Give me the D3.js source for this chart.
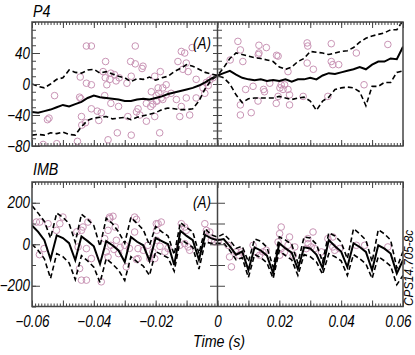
<!DOCTYPE html>
<html>
<head>
<meta charset="utf-8">
<script src="https://cdn.jsdelivr.net/npm/d3@7"></script>
<style>
  body { margin: 0; background: #fff; }
  svg text { font-family: "Liberation Sans Narrow", "Liberation Sans", Arial, sans-serif; font-style: italic; fill: #000; }
  .lab { font-size: 16px; }
  .ttl { font-size: 17px; }
</style>
</head>
<body>
<svg width="415" height="355"></svg>
<script>
// time grid (s), one sample every 2 ms
let times = d3.range(-60, 61, 2).map(ms => ms / 1000);

// P4 panel
let p4Mean = [-36,-37,-35,-33,-30,-27,-29,-26,-23,-18,-15,-17,-18,-19,-20,-22,-22,-20,-19,-20,-18,
  -16,-13,-11,-9,-7,-5,-2,2,7,11,14,17,12,8,6,5,6,4,5,4,6,3,6,6,8,6,11,14,13,15,17,19,22,19,25,29,29,33,32,48];
let p4Upper = [0,-3,-5,0,6,8,18,15,14,18,19,14,16,13,10,8,3,7,6,9,5,8,10,16,20,25,23,19,15,13,11,
  21,33,40,38,36,34,33,31,29,22,19,22,29,33,42,41,40,38,40,42,43,47,54,59,62,64,66,70,70,82];
let p4Lower = [-66,-65,-66,-63,-64,-62,-65,-66,-55,-47,-44,-43,-42,-45,-44,-43,-46,-43,-41,-39,-37,
  -33,-31,-32,-33,-33,-32,-22,-6,5,11,8,0,-14,-24,-19,-18,-18,-18,-18,-16,-18,-20,-18,-17,-22,-34,-22,-17,-7,-5,-4,-5,-10,-28,-3,-3,2,2,15,17];
let p4Dots = [
  [-0.0424,49],[-0.0408,49],[-0.0266,49],[-0.0362,29],[-0.0281,29],[-0.0266,26],[-0.0241,23],[-0.0244,20],
  [-0.037,16],[-0.0444,9],[-0.0363,8],[-0.0345,14],[-0.0333,12],[-0.0318,8],[-0.0348,6],[-0.0328,4],
  [-0.0358,-1],[-0.0424,1],[-0.0408,-1],[-0.0293,1],[-0.0279,10],[-0.0203,10],[-0.0214,-10],[-0.0527,-15],
  [-0.0446,-17],[-0.0442,-19],[-0.0365,-15],[-0.0345,-25],[-0.032,-29],[-0.0408,-32],[-0.0389,-35],[-0.0376,-37],
  [-0.055,-46],[-0.0545,-44],[-0.0257,-32],[-0.0262,-36],[-0.0251,-40],[-0.029,-42],[-0.023,-25],[-0.0216,-29],
  [-0.044,-42],[-0.0384,-47],[-0.0427,-50],[-0.0324,-63],[-0.0279,-66],[-0.023,-48],[-0.0453,-74],[-0.0564,-78],
  [-0.052,-77],[-0.0354,-72],[-0.0203,-42],[-0.0198,-22],[-0.0439,-53],
  [-0.0117,42],[-0.0106,40],[-0.0082,47],[0.0066,55],[0.0134,50],[0.0158,47],[0.0074,44],[0.0134,40],
  [0.0082,29],[0.0041,31],[-0.0128,29],[-0.0101,27],[-0.0185,16],[-0.0112,19],[-0.0095,16],[-0.0069,6],
  [-0.0036,2],[-0.0025,5],[-0.003,-2],[-0.0015,8],[-0.0166,-1],[-0.0192,-5],[-0.019,-12],[-0.0198,-15],
  [-0.0196,-22],[-0.0209,-26],[-0.0182,-18],[-0.0177,-5],[-0.0166,-14],[-0.015,-12],[-0.0177,-20],[-0.0133,-20],
  [-0.0117,-29],[-0.0101,-18],[-0.0069,-18],[-0.0122,-42],[-0.009,-40],[-0.0187,-63],[-0.0047,-5],[-0.0041,-12],
  [0.0091,-7],[0.0115,-3],[0.0149,-7],[0.0152,-10],[0.0169,1],[0.0131,-22],[0.019,-25],[0.0074,-27],
  [0.0074,-40],[0.0109,-37],[0.0206,-1],[0.0191,37],[0.0132,38],
  [0.029,53],[0.0292,49],[0.0368,52],[0.0551,51],[0.0449,40],[0.029,27],[0.031,19],[0.0368,29],
  [0.0373,25],[0.0392,25],[0.0228,16],[0.0196,36],[0.0202,-5],[0.0217,-1],[0.0212,-7],[0.0228,-7],
  [0.0233,-14],[0.0233,-27],[0.0196,-16],[0.0277,-16],[0.0357,-16],[0.0474,-1]
];

// IMB panel
let imbMean = [90,60,20,-72,43,30,5,-77,38,15,-10,-95,15,-5,-30,-85,35,12,-5,-80,30,15,0,-100,65,40,20,-75,45,28,19,
  25,-10,-50,-35,-125,-15,-30,-55,-140,5,-20,-40,-120,-15,-20,-50,-115,20,-10,-35,-110,5,-13,-37,-125,-5,-21,-45,-141,-77];
let imbUpper = [185,150,110,30,150,130,100,10,145,120,90,-10,125,100,60,5,130,100,70,-5,85,60,40,-50,105,80,60,-45,75,45,35,
  50,20,-20,-10,-85,25,15,-15,-110,35,20,0,-90,35,30,0,-85,55,40,10,-70,75,50,20,-85,70,50,20,-115,-35];
let imbLower = [0,-30,-70,-165,-45,-60,-90,-170,-55,-80,-110,-185,-70,-95,-125,-175,-60,-85,-105,-150,-35,-50,-65,-130,25,5,-15,-120,10,5,5,
  5,-30,-75,-65,-160,-50,-65,-90,-165,-30,-55,-75,-150,-50,-60,-85,-145,-45,-60,-80,-150,-50,-70,-95,-165,-60,-80,-105,-195,-150];
let imbDots = [
  [-0.0586,107],[-0.0575,107],[-0.0548,99],[-0.0561,-21],[-0.0521,67],[-0.051,99],[-0.05,131],[-0.044,67],
  [-0.0435,83],[-0.0419,107],[-0.0451,-13],[-0.0424,-21],[-0.0408,-69],[-0.0446,-117],[-0.044,-173],[-0.0424,-173],
  [-0.0376,-181],[-0.0349,131],[-0.0338,135],[-0.0354,67],[-0.0365,27],[-0.036,-37],[-0.0327,19],[-0.0345,-5],
  [-0.0335,-25],[-0.032,-45],[-0.0315,-15],[-0.0354,-61],[-0.03,-5],[-0.0295,-109],[-0.0285,-20],[-0.0268,131],
  [-0.0262,120],[-0.0268,59],[-0.0257,-21],[-0.0257,-69],[-0.0262,-73],[-0.024,-29],[-0.0225,-5],[-0.0219,-69],
  [-0.0209,-37],[-0.0198,99],[-0.0192,99],[-0.0182,107],[-0.0197,67],[-0.0197,19],[-0.0186,-10],[-0.017,-37],
  [-0.016,-20],[-0.0203,-69],[-0.0117,99],[-0.0106,83],[-0.0101,67],[-0.0095,-13],[-0.009,-29],[-0.0106,3],
  [-0.0122,-5],[-0.0041,99],[-0.0036,67],[-0.0025,59],[-0.002,19],[-0.0009,11],[0.0002,11],[0.0034,-5],
  [0.0039,-61],[0.0045,-109],[0.006,-37],[0.0069,-53],[0.0077,-37],[0.0115,-5],[0.0126,-37],[0.0136,-53],
  [0.0147,-37],[0.0158,-29],[0.0206,83],[0.0201,51],[0.0233,35],[0.0196,11],[0.0206,-21],[0.0217,-37],
  [0.0228,-5],[0.0245,-53],[0.025,-13],[0.0201,-53],[0.0309,59],[0.0293,3],[0.0303,-13],[0.0314,-21],
  [0.0287,-21],[0.0336,-37],[0.0357,27],[0.0373,-13],[0.0395,-21],[0.0449,-5],[0.0476,-5],[0.0551,-13],
  [0.0292,27],[0.0373,35],[0.0379,-29],[-0.0576,-50],[-0.0455,60],[-0.0348,124],[-0.0331,83]
];

let xTickLabels = [-0.06, -0.04, -0.02, 0, 0.02, 0.04, 0.06];
let p4TickLabels = [40, 0, -40, -80];
let imbTickLabels = [200, 0, -200];

let svg = d3.select("svg");
let frameColor = "#444";
let dotColor = "#c994b5";

let x = d3.scaleLinear().domain([-0.06, 0.06]).range([32, 403]);
let xMinor = d3.range(-60, 61).map(v => v / 1000);
let xMajor = d3.range(-60, 61, 10).map(v => v / 1000);

function styleTicks(g) {
  g.select(".domain").remove();
  g.selectAll("line").attr("stroke", frameColor).attr("stroke-width", 1);
  g.attr("font-family", null).attr("font-size", null);
}

function drawPanel(id, y, mean, upper, lower, dots, minorY, majorY, centerY, centerLen) {
  let [bottom, top] = y.range();
  let g = svg.append("g");

  g.append("clipPath").attr("id", id)
    .append("rect").attr("x", x(-0.06)).attr("y", top).attr("width", x(0.06) - x(-0.06)).attr("height", bottom - top);

  let plot = g.append("g").attr("clip-path", `url(#${id})`);

  plot.selectAll("circle")
    .data(dots)
    .join("circle")
      .attr("cx", d => x(d[0]))
      .attr("cy", d => y(d[1]))
      .attr("r", 3.3)
      .attr("fill", "none")
      .attr("stroke", dotColor)
      .attr("stroke-width", 1);

  let line = d3.line().x((d, i) => x(times[i])).y(d => y(d));

  [upper, lower].forEach(s => {
    plot.append("path").attr("d", line(s))
      .attr("fill", "none").attr("stroke", "#000")
      .attr("stroke-width", 1.6).attr("stroke-dasharray", "5,3");
  });
  plot.append("path").attr("d", line(mean))
    .attr("fill", "none").attr("stroke", "#000").attr("stroke-width", 2);

  // x ticks on bottom and top edges, pointing inward
  g.append("g").attr("transform", `translate(0,${bottom})`)
    .call(d3.axisBottom(x).tickValues(xMinor).tickSize(-3).tickFormat("")).call(styleTicks);
  g.append("g").attr("transform", `translate(0,${bottom})`)
    .call(d3.axisBottom(x).tickValues(xMajor).tickSize(-6).tickFormat("")).call(styleTicks);
  g.append("g").attr("transform", `translate(0,${top})`)
    .call(d3.axisTop(x).tickValues(xMinor).tickSize(-3).tickFormat("")).call(styleTicks);
  g.append("g").attr("transform", `translate(0,${top})`)
    .call(d3.axisTop(x).tickValues(xMajor).tickSize(-6).tickFormat("")).call(styleTicks);

  // left axis ticks inward
  g.append("g").attr("transform", `translate(${x(-0.06)},0)`)
    .call(d3.axisLeft(y).tickValues(minorY).tickSize(-4).tickFormat("")).call(styleTicks);
  g.append("g").attr("transform", `translate(${x(-0.06)},0)`)
    .call(d3.axisLeft(y).tickValues(majorY).tickSize(-8).tickFormat("")).call(styleTicks);

  // centre axis at t = 0 with ticks on both sides
  g.append("line")
    .attr("x1", x(0)).attr("x2", x(0)).attr("y1", top).attr("y2", bottom)
    .attr("stroke", frameColor).attr("stroke-width", 1.5);
  g.append("g").attr("transform", `translate(${x(0)},0)`)
    .call(d3.axisLeft(y).tickValues(centerY).tickSize(centerLen).tickFormat("")).call(styleTicks);
  g.append("g").attr("transform", `translate(${x(0)},0)`)
    .call(d3.axisRight(y).tickValues(centerY).tickSize(centerLen).tickFormat("")).call(styleTicks);

  g.append("rect")
    .attr("x", x(-0.06)).attr("y", top)
    .attr("width", x(0.06) - x(-0.06)).attr("height", bottom - top)
    .attr("fill", "none").attr("stroke", frameColor).attr("stroke-width", 1.5);

  return g;
}

// P4
let yP4 = d3.scaleLinear().domain([-80, 80]).range([146, 22]);
let gP4 = drawPanel("clipP4", yP4, p4Mean, p4Upper, p4Lower, p4Dots,
  d3.range(-80, 81, 10), p4TickLabels, d3.range(-70, 71, 10), 4.5);
gP4.append("g").attr("transform", `translate(${x(-0.06)},0)`)
  .call(d3.axisLeft(yP4).tickValues(p4TickLabels).tickSize(0).tickPadding(2)
    .tickFormat(d => d3.format("d")(d)))
  .call(styleTicks)
  .selectAll("text").attr("class", "lab narrow");

// IMB
let yIMB = d3.scaleLinear().domain([-300, 300]).range([306.5, 182]);
let gIMB = drawPanel("clipIMB", yIMB, imbMean, imbUpper, imbLower, imbDots,
  d3.range(-300, 301, 100), imbTickLabels, [-200, -100, 0, 100, 200], 7.5);
gIMB.append("g").attr("transform", `translate(${x(-0.06)},0)`)
  .call(d3.axisLeft(yIMB).tickValues(imbTickLabels).tickSize(0).tickPadding(2)
    .tickFormat(d => d3.format("d")(d)))
  .call(styleTicks)
  .selectAll("text").attr("class", "lab narrow");

// x labels under the IMB panel
svg.append("g").attr("transform", "translate(0,306.5)")
  .call(d3.axisBottom(x).tickValues(xTickLabels).tickSize(0).tickPadding(9)
    .tickFormat(d => d === 0 ? "0" : d3.format(".2f")(d)))
  .call(styleTicks)
  .selectAll("text").attr("class", "lab narrow")
    .filter(d => d === 0.06).attr("text-anchor", "end").attr("x", 8);

// titles and notes
svg.append("text").attr("class", "ttl narrow").attr("x", 33).attr("y", 17).text("P4");
svg.append("text").attr("class", "ttl narrow").attr("x", 33).attr("y", 175).text("IMB");
svg.append("text").attr("class", "lab narrow").attr("x", 211).attr("y", 49).attr("text-anchor", "end").text("(A)");
svg.append("text").attr("class", "lab narrow").attr("x", 211).attr("y", 208).attr("text-anchor", "end").text("(A)");
svg.append("text").attr("class", "ttl narrow").attr("x", 219).attr("y", 347).attr("text-anchor", "middle").text("Time (s)");
svg.append("text")
  .attr("transform", "translate(413,268) rotate(-90)")
  .attr("text-anchor", "middle")
  .style("font-size", "12px")
  .attr("textLength", 76)
  .attr("lengthAdjust", "spacingAndGlyphs")
  .text("CPS14.705-8c");

// squeeze the text into the narrow face of the original
svg.selectAll("text.narrow").each(function() {
  let w = this.getComputedTextLength();
  if (w > 0) d3.select(this).attr("textLength", w * 0.84).attr("lengthAdjust", "spacingAndGlyphs");
});
</script>
</body>
</html>
